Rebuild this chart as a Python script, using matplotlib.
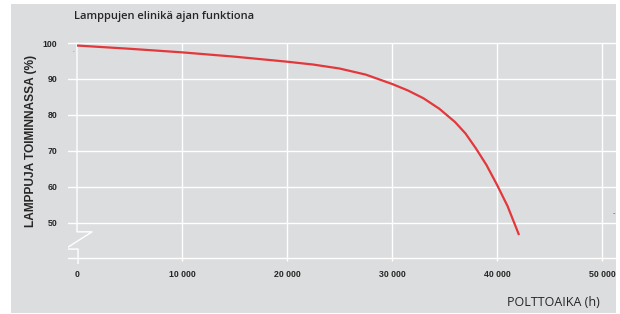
import matplotlib
matplotlib.use("Agg")
import matplotlib.pyplot as plt
from matplotlib.patches import Rectangle

# Data
hours = [0, 5000, 10000, 15000, 20000, 22500, 25000, 27500, 30000, 31500,
         33000, 34500, 36000, 37000, 38000, 39000, 40000, 41000, 42100]
working = [99.3, 98.4, 97.4, 96.2, 94.8, 94.0, 92.9, 91.2, 88.6, 86.8,
           84.6, 81.7, 78.0, 74.8, 70.6, 66.0, 60.5, 54.6, 46.5]
xticks = [0, 10000, 20000, 30000, 40000, 50000]
xtick_labels = ["0", "10 000", "20 000", "30 000", "40 000", "50 000"]
yticks = [50, 60, 70, 80, 90, 100]
ygrid = [40, 50, 60, 70, 80, 90, 100]

title = "Lamppujen elinikä ajan funktiona"
ylabel = "LAMPPUJA TOIMINNASSA (%)"
xlabel = "POLTTOAIKA (h)"

W, H = 620, 314
BG = "#dcdddf"
TXT = "#262626"
RED = "#e2383c"

fig = plt.figure(figsize=(W / 100, H / 100), dpi=100)
fig.patch.set_facecolor("white")
bg = Rectangle((11 / W, 1 - 313 / H), 605 / W, 309 / H,
               transform=fig.transFigure, facecolor=BG,
               edgecolor="none", zorder=-10)
fig.patches.append(bg)

ax_l, ax_r, ax_t, ax_b = 68, 616, 40, 264
ax = fig.add_axes([ax_l / W, 1 - ax_b / H, (ax_r - ax_l) / W, (ax_b - ax_t) / H])
ax.set_zorder(5)
ax.set_facecolor("none")
ax.set_xlim(-857, 51333)
ax.set_ylim(38.44, 100.84)
for s in ax.spines.values():
    s.set_visible(False)

gw = 1.0
for y in ygrid:
    ax.axhline(y, color="white", lw=gw, zorder=1)
for x in xticks[1:]:
    ax.plot([x, x], [39.3, 100], color="white", lw=gw, zorder=1, solid_capstyle="butt")
# y axis with break symbol
ax.plot([0, 0, 1430, -1140, 100, 100], [100, 47.4, 47.4, 42.6, 42.6, 38.44],
        color="white", lw=gw, zorder=1)

ax.plot(hours, working, color=RED, lw=1.6, zorder=3, solid_capstyle="butt",
        solid_joinstyle="round")

ax.set_xticks(xticks)
ax.set_xticklabels(xtick_labels)
ax.set_yticks(yticks)
ax.set_yticklabels([str(v) for v in yticks])
ax.tick_params(length=0, labelsize=6.3, colors=TXT)
ax.tick_params(axis="y", pad=7.5)
ax.tick_params(axis="x", pad=4)
for lbl in ax.get_xticklabels() + ax.get_yticklabels():
    lbl.set_fontfamily("Liberation Sans")
    lbl.set_fontweight("bold")

fig.text(74 / W, 1 - 17 / H, title, fontsize=8, fontweight="semibold",
         family="Open Sans", color=TXT, va="center", ha="left")
fig.text(31 / W, 1 - 141 / H, ylabel, fontsize=8.6, rotation=90,
         family="Liberation Sans", fontweight="bold", color=TXT, va="center", ha="center")
fig.text(600 / W, 1 - 303 / H, xlabel, fontsize=9, family="Open Sans",
         fontweight="medium", color=TXT, va="center", ha="right")

# small stray marks present in the original
fig.text(73 / W, 1 - 51 / H, ".", fontsize=4, color="#555555", ha="center", va="center")
fig.text(614 / W, 1 - 213 / H, "-", fontsize=5, color="#555555", ha="center", va="center")

fig.savefig("out.png", dpi=100)
